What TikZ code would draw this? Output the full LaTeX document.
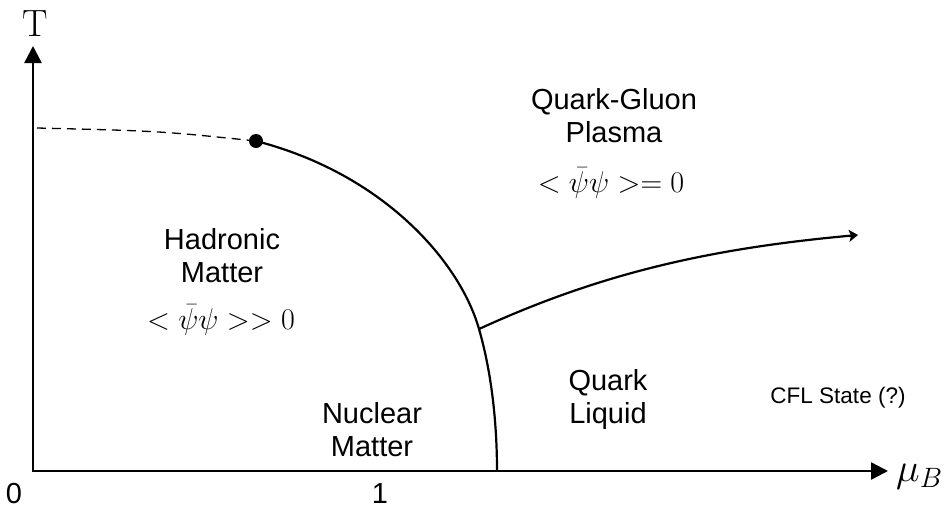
\RequirePackage{fix-cm}
\documentclass[tikz,border=0pt]{standalone}
\usepackage{fontspec}
\newfontfamily\arialf{Liberation Sans}
\usetikzlibrary{arrows.meta}
\begin{document}
\begin{tikzpicture}[x=1pt,y=-1pt,
  lbl/.style={font=\arialf\fontsize{29}{33}\selectfont, align=center, inner sep=0pt},
  smalllbl/.style={font=\arialf\fontsize{22.5}{26}\selectfont, inner sep=0pt},
  mathlbl/.style={font=\fontsize{30}{34}\selectfont, inner sep=0pt},
  axisline/.style={line width=2.5pt, {Triangle[length=17pt,width=17pt]}-{Triangle[length=17pt,width=17pt]}},
  phase/.style={line width=2.2pt},
  crossover/.style={line width=1.3pt, dash pattern=on 9pt off 6pt}]
\useasboundingbox (0,0) rectangle (947,509);
% axes
\coordinate (O) at (33,471);
\coordinate (ytip) at (33,46);
\coordinate (xtip) at (888,471);
\draw[axisline] (ytip) -- (O) -- (xtip);
\node[font=\fontsize{38}{40}\selectfont, anchor=base, inner sep=0pt] (T) at (35,36) {T};
\node[font=\fontsize{40}{42}\selectfont, anchor=base west, inner sep=0pt] (mu) at (896,481) {$\mu_B$};
\node[lbl, anchor=base] (zero) at (14,503) {0};
\node[lbl, anchor=base] (one) at (380,503) {1};
% phase boundaries
\node[circle, fill, inner sep=0pt, minimum size=14pt] (cp) at (256,141) {};
\coordinate (ystart) at (37,128);
\coordinate (j) at (479,329);
\coordinate (e) at (497,471);
\coordinate (tip) at (858,235);
\draw[crossover] (ystart) .. controls (160,131) .. (cp.center);
\draw[phase] (cp.center) .. controls (384,174) and (460,262) .. (j)
   .. controls (492,374) and (497,425) .. (e);
\draw[phase, -{Stealth[length=9pt,width=12pt,inset=2pt]}] (j) .. controls (599,274) and (708,248.5) .. (tip);
% labels
\node[lbl] (qgp) at (614,116) {Quark-Gluon\\Plasma};
\node[mathlbl] (qgpm) at (611,183) {$<\bar\psi\psi>=0$};
\node[lbl] (had) at (222,256) {Hadronic\\Matter};
\node[mathlbl] (hadm) at (221,320) {$<\bar\psi\psi>>0$};
\node[lbl] (ql) at (608,399) {Quark\\Liquid};
\node[lbl] (nm) at (372,430) {Nuclear\\Matter};
\node[smalllbl] (cfl) at (838,398) {CFL State (?)};
\end{tikzpicture}
\end{document}
